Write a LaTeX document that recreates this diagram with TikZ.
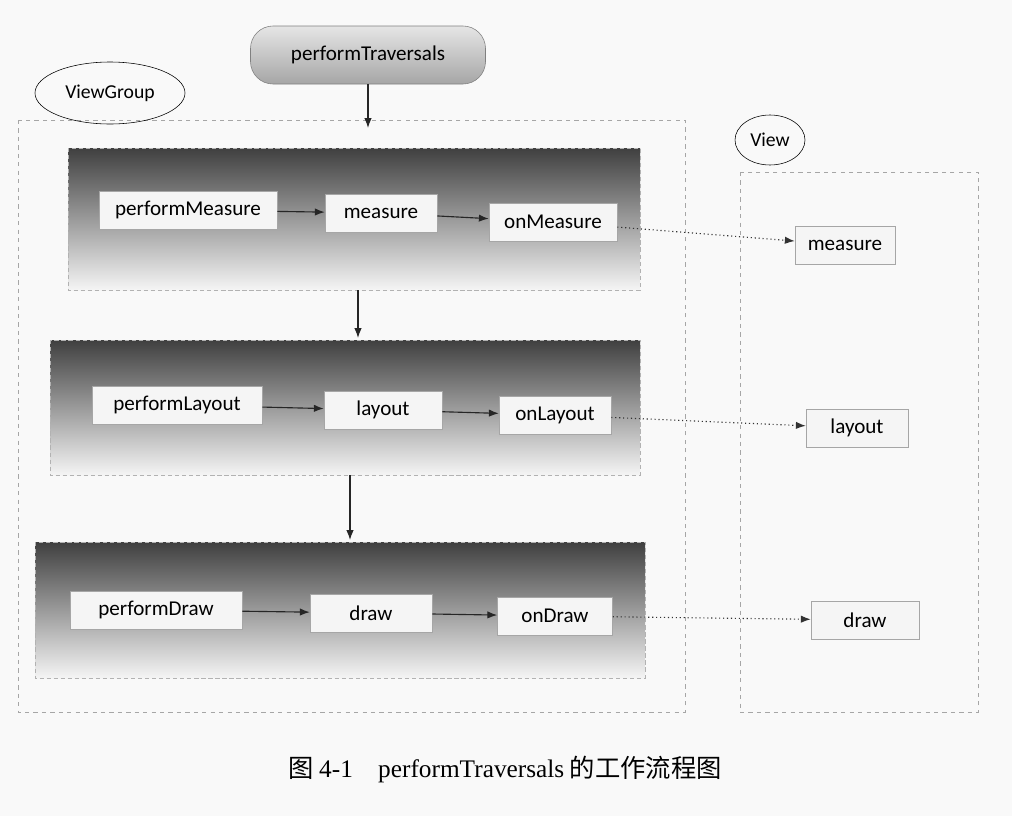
\documentclass[tikz,border=0pt]{standalone}
\usepackage{fontspec}
\setmainfont{Carlito}
\newfontfamily\cjk{Noto Sans CJK SC}
\newfontfamily\capfont{Liberation Serif}
\usetikzlibrary{shapes.geometric,arrows.meta}
\begin{document}
\begin{tikzpicture}[x=0.025cm,y=-0.025cm,
  box/.style={draw=gray!70,fill=gray!8,minimum height=38*0.025cm,font=\fontsize{15}{17}\selectfont,inner sep=3pt},
  band/.style={draw=gray!60,densely dashed,top color=black!75,bottom color=gray!8},
  arr/.style={-{Latex[length=7pt]},thick,black!85},
  dot/.style={-{Latex[length=7pt]},dotted,thick,black!80},
  grp/.style={draw=gray!70,dashed}]
\useasboundingbox (0,0) rectangle (1012,816);
\fill[gray!5] (0,0) rectangle (1012,816);
% groups
\draw[grp] (18,120) rectangle (685,712);
\draw[grp] (740,172) rectangle (978,712);
\node[draw,ellipse,minimum width=150*0.025cm,minimum height=62*0.025cm,font=\fontsize{14}{16}\selectfont] (vg) at (110,93) {ViewGroup};
\node[draw,ellipse,minimum width=70*0.025cm,minimum height=50*0.025cm,font=\fontsize{14}{16}\selectfont] (vw) at (770,140) {View};
% top
\node[draw=gray,rounded corners=16pt,top color=gray!20,bottom color=gray!70,minimum width=235*0.025cm,minimum height=58*0.025cm,font=\fontsize{15}{17}\selectfont] (pt) at (368,55) {performTraversals};
\coordinate (gtop) at (368,128);
\draw[arr] (pt) -- (gtop);
% bands
\path[band] (68,148) rectangle (640,290);
\path[band] (50,340) rectangle (640,475);
\path[band] (35,542) rectangle (645,678);
\coordinate (b1) at (358,290); \coordinate (b2t) at (358,338);
\coordinate (b2) at (350,475); \coordinate (b3t) at (350,540);
\draw[arr] (b1) -- (b2t);
\draw[arr] (b2) -- (b3t);
% row 1
\node[box,minimum width=178*0.025cm] (pm) at (188,210) {performMeasure};
\node[box,minimum width=112*0.025cm] (m) at (381,213) {measure};
\node[box,minimum width=128*0.025cm] (om) at (553,222) {onMeasure};
\node[box,minimum width=100*0.025cm] (vm) at (845,245) {measure};
\draw[arr] (pm) -- (m); \draw[arr] (m) -- (om); \draw[dot] (om) -- (vm);
% row 2
\node[box,minimum width=170*0.025cm] (pl) at (177,405) {performLayout};
\node[box,minimum width=118*0.025cm] (l) at (383,410) {layout};
\node[box,minimum width=112*0.025cm] (ol) at (555,415) {onLayout};
\node[box,minimum width=102*0.025cm] (vl) at (857,428) {layout};
\draw[arr] (pl) -- (l); \draw[arr] (l) -- (ol); \draw[dot] (ol) -- (vl);
% row 3
\node[box,minimum width=172*0.025cm] (pd) at (156,610) {performDraw};
\node[box,minimum width=122*0.025cm] (d) at (371,613) {draw};
\node[box,minimum width=115*0.025cm] (od) at (555,616) {onDraw};
\node[box,minimum width=108*0.025cm] (vd) at (865,620) {draw};
\draw[arr] (pd) -- (d); \draw[arr] (d) -- (od); \draw[dot] (od) -- (vd);
% caption
\node[font=\fontsize{18}{20}\selectfont] (cap) at (505,770) {{\cjk 图} {\capfont 4-1\quad performTraversals} {\cjk 的工作流程图}};
\end{tikzpicture}
\end{document}
